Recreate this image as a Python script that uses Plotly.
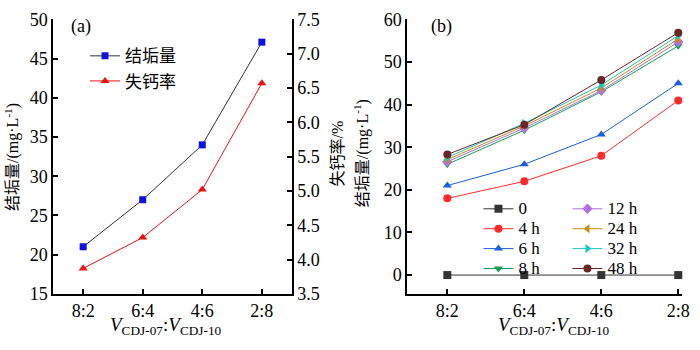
import plotly.graph_objects as go

ratios = ["8:2", "6:4", "4:6", "2:8"]

# Panel (a)
scale_amount = [21.0, 27.0, 34.0, 47.1]      # 结垢量, mg/L
ca_loss_rate = [3.87, 4.32, 5.02, 6.57]      # 失钙率, %

# Panel (b)
series_names = ["0", "4 h", "6 h", "8 h", "12 h", "24 h", "32 h", "48 h"]
s_0h = [0, 0, 0, 0]
s_4h = [18, 22, 28, 41]
s_6h = [21, 26, 33, 45]
s_8h = [26.0, 34.0, 43.0, 53.8]
s_12h = [26.6, 34.5, 43.3, 54.7]
s_24h = [27.1, 35.0, 43.9, 55.4]
s_32h = [27.6, 35.6, 44.6, 56.2]
s_48h = [28.3, 35.3, 45.8, 56.9]
series_values = [s_0h, s_4h, s_6h, s_8h, s_12h, s_24h, s_32h, s_48h]

colors = ["#333333", "#ff2a2a", "#1a5fe0", "#14a050", "#b070e0", "#c8900a", "#20c4c4", "#6a2626"]
symbols = ["square", "circle", "triangle-up", "triangle-down", "diamond",
           "triangle-left", "triangle-right", "circle"]

FONT = "'Times New Roman', 'Liberation Serif', serif"
MIX = "'Times New Roman', 'Liberation Serif', 'Noto Sans CJK SC', serif"
CJK = "'Noto Sans CJK SC', sans-serif"

W, H = 700, 350
fig = go.Figure()

fig.add_trace(go.Scatter(
    x=ratios, y=scale_amount, name="结垢量", mode="lines+markers",
    line=dict(color="#333333", width=1),
    marker=dict(symbol="square", color="#1010e0", size=7),
    xaxis="x", yaxis="y", legend="legend", cliponaxis=False))
fig.add_trace(go.Scatter(
    x=ratios, y=ca_loss_rate, name="失钙率", mode="lines+markers",
    line=dict(color="#ee1111", width=1),
    marker=dict(symbol="triangle-up", color="#ee1111", size=8),
    xaxis="x", yaxis="y2", legend="legend", cliponaxis=False))

for i, (nm, vals) in enumerate(zip(series_names, series_values)):
    fig.add_trace(go.Scatter(
        x=ratios, y=vals, name=f'<span style="font-size:17px">{nm}</span>',
        mode="lines+markers",
        line=dict(color=colors[i], width=1),
        marker=dict(symbol=symbols[i], color=colors[i], size=8),
        xaxis="x2", yaxis="y3", cliponaxis=False,
        legend="legend2" if i < 4 else "legend3"))

axis_common = dict(showline=True, linecolor="black", linewidth=2, ticks="inside",
                   ticklen=5, tickwidth=1.5, tickcolor="black", showgrid=False,
                   zeroline=False, tickfont=dict(family=FONT, size=18, color="black"))

ydom = [1 - 301 / H, 1 - 10 / H]
fig.update_layout(
    width=W, height=H, margin=dict(l=0, r=0, t=0, b=0),
    paper_bgcolor="white", plot_bgcolor="white",
    font=dict(family=FONT, size=17, color="black"),
    xaxis=dict(domain=[54 / W, 295 / W], range=[-0.5, 3.5], type="category",
               anchor="y", **axis_common),
    yaxis=dict(domain=ydom, range=[15, 50], dtick=5, anchor="x", **axis_common),
    yaxis2=dict(overlaying="y", side="right", anchor="x", range=[3.5, 7.5],
                dtick=0.5, tickformat=".1f", **axis_common),
    xaxis2=dict(domain=[412 / W, 690 / W], range=[-0.52, 3.05], type="category",
                anchor="y3", **axis_common),
    yaxis3=dict(domain=ydom, range=[-4.4, 60], dtick=10, anchor="x2", **axis_common),
    legend=dict(x=86 / W, y=1 - 30 / H, xanchor="left", yanchor="top",
                bgcolor="rgba(0,0,0,0)", font=dict(family=CJK, size=17),
                itemwidth=30, tracegroupgap=0),
    legend2=dict(x=484 / W, y=1 - 195 / H, xanchor="left", yanchor="top",
                 bgcolor="rgba(0,0,0,0)", font=dict(family=FONT, size=13),
                 itemwidth=30),
    legend3=dict(x=574 / W, y=1 - 195 / H, xanchor="left", yanchor="top",
                 bgcolor="rgba(0,0,0,0)", font=dict(family=FONT, size=13),
                 itemwidth=30),
    showlegend=True,
)

ann = [
    dict(text="(a)", x=82 / W, y=1 - 18 / H, font=dict(family=FONT, size=18)),
    dict(text="(b)", x=447 / W, y=1 - 18 / H, font=dict(family=FONT, size=18)),
    dict(text="结垢量/(mg·L<sup>-1</sup>)", x=12 / W, y=1 - 156 / H, textangle=-90,
         font=dict(family=MIX, size=16)),
    dict(text="失钙率/%", x=341 / W, y=1 - 152 / H, textangle=-90,
         font=dict(family=MIX, size=16)),
    dict(text="结垢量/(mg·L<sup>-1</sup>)", x=366 / W, y=1 - 152 / H, textangle=-90,
         font=dict(family=MIX, size=16)),
    dict(text="<i>V</i><sub>CDJ-07</sub>:<i>V</i><sub>CDJ-10</sub>", x=168 / W, y=1 - 335 / H,
         font=dict(family=FONT, size=19)),
    dict(text="<i>V</i><sub>CDJ-07</sub>:<i>V</i><sub>CDJ-10</sub>", x=560 / W, y=1 - 335 / H,
         font=dict(family=FONT, size=19)),
]
for a in ann:
    fig.add_annotation(xref="paper", yref="paper", showarrow=False,
                       xanchor="center", yanchor="middle", **a)

fig.write_html("out.html")
